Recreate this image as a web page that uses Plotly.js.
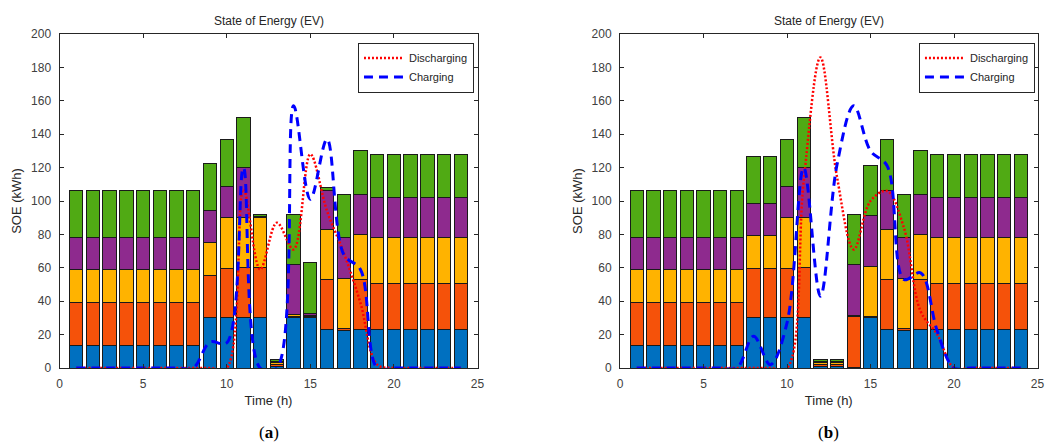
<!DOCTYPE html>
<html>
<head>
<meta charset="utf-8">
<script src="https://cdn.plot.ly/plotly-3.0.1.min.js"></script>
<style>html,body{margin:0;padding:0;background:#fff;}#chart{width:1047px;height:444px;}</style>
</head>
<body>
<div id="chart"></div>
<script>
// ---- data ----
const hours = [1,2,3,4,5,6,7,8,9,10,11,12,13,14,15,16,17,18,19,20,21,22,23,24];

// (a) stacked segments
const aBlue   = [13.2,13.2,13.2,13.2,13.2,13.2,13.2,13.2,30,30,30,30,1,30,30,22.8,22.6,22.8,22.8,22.8,22.8,22.8,22.8,22.8];
const aOrange = [26,26,26,26,26,26,26,26,25.4,29.4,30,30,1,1,1,30,0.8,30,27.6,27.6,27.6,27.6,27.6,27.6];
const aYellow = [19.8,19.8,19.8,19.8,19.8,19.8,19.8,19.8,20,30.6,30,30,1,0.8,0.6,30.2,30.4,27.2,27.6,27.6,27.6,27.6,27.6,27.6];
const aPurple = [19,19,19,19,19,19,19,19,18.8,18.8,30,1,1,30.2,1,23.4,24.2,24,24,24,24,24,24,24];
const aGreen  = [28,28,28,28,28,28,28,28,28.2,28,30,1.2,1,29.8,30.4,1.4,25.6,26,25.8,25.8,25.8,25.8,25.8,25.8];

// (b) stacked segments
const bBlue   = [13.2,13.2,13.2,13.2,13.2,13.2,13.2,30,30,30,30,1,1,0.6,30,22.8,22.6,22.8,22.8,22.8,22.8,22.8,22.8,22.8];
const bOrange = [26,26,26,26,26,26,26,29.6,29.6,29.4,30,1,1,30.4,1,30,0.8,30,27.6,27.6,27.6,27.6,27.6,27.6];
const bYellow = [19.8,19.8,19.8,19.8,19.8,19.8,19.8,20,20,30.6,30,1,1,0.6,30,30.2,30.4,27.2,27.6,27.6,27.6,27.6,27.6,27.6];
const bPurple = [19,19,19,19,19,19,19,18.8,18.8,18.8,30,1,1,30.4,30.2,23.4,24.2,24,24,24,24,24,24,24];
const bGreen  = [28,28,28,28,28,28,28,28,28,28,30,1,1,29.8,29.8,30.4,25.6,26,25.8,25.8,25.8,25.8,25.8,25.8];

// lines
const aDischarging = [0,0,0,0,0,0,0,0,0,0,107,59,87,71,128,94,69,39,2,0,0,0,0,0];
const aCharging    = [0,0,0,0,0,0,0,0,15.5,15,120,0,0,157,101,137,68,59,0,0,0,0,0,0];
const bDischarging = [0,0,0,0,0,0,0,0,0,0,112,186,114,71,100,106,84,34,20,0,0,0,0,0];
const bCharging    = [0,0,0,0,0,0,0,19,2,27,120,43,122,157,130,121,53,57,22,0,0,0,0,0];

const xTicks = [0,5,10,15,20,25];
const yTicks = [0,20,40,60,80,100,120,140,160,180,200];
const segColors = ['#0070C0','#F5520A','#FFB300','#8E2A8E','#50AA14'];

// ---- traces ----
function barSet(segs, xa, ya) {
  return segs.map((s, i) => ({
    type: 'bar', x: hours, y: s, xaxis: xa, yaxis: ya, width: 0.8,
    marker: {color: segColors[i], line: {color: '#1a1a1a', width: 1}},
    showlegend: false, hoverinfo: 'skip'
  }));
}
function lineSet(dis, chg, xa, ya, leg) {
  return [
    {type:'scatter', mode:'lines', x: hours, y: dis, xaxis: xa, yaxis: ya, name:'Discharging',
     legend: leg, line:{color:'#FF0000', width:2.5, dash:'2px,2px', shape:'spline', smoothing:1}},
    {type:'scatter', mode:'lines', x: hours, y: chg, xaxis: xa, yaxis: ya, name:'Charging',
     legend: leg, line:{color:'#0000FF', width:3, dash:'9px,6px', shape:'spline', smoothing:1}}
  ];
}
const data = [].concat(
  barSet([aBlue,aOrange,aYellow,aPurple,aGreen], 'x', 'y'),
  barSet([bBlue,bOrange,bYellow,bPurple,bGreen], 'x2', 'y2'),
  lineSet(aDischarging, aCharging, 'x', 'y', 'legend'),
  lineSet(bDischarging, bCharging, 'x2', 'y2', 'legend2')
);

const tickFont = {family:'Liberation Sans, Arial, sans-serif', size:12, color:'#404040'};
const labFont = {family:'Liberation Sans, Arial, sans-serif', size:13, color:'#262626'};
function xax(dom) {
  return {domain: dom, range:[0,25], tickvals: xTicks, ticks:'inside', ticklen:4, tickcolor:'#262626',
    showline:true, linecolor:'#262626', linewidth:1, mirror:'ticks', showgrid:false, zeroline:false,
    ticklabelstandoff:5,
    tickfont: tickFont, title:{text:'Time (h)', font: labFont, standoff: 5}, fixedrange:true};
}
function yax(anchor) {
  return {domain:[0.17117,0.92342], range:[0,200], tickvals: yTicks, ticks:'inside', ticklen:4, tickcolor:'#262626',
    showline:true, linecolor:'#262626', linewidth:1, mirror:'ticks', showgrid:false, zeroline:false,
    ticklabelstandoff:5,
    tickfont: tickFont, title:{text:'SOE (kWh)', font: labFont, standoff: 6}, anchor: anchor, fixedrange:true};
}
const legendBase = {bgcolor:'#ffffff', bordercolor:'#262626', borderwidth:1, traceorder:'normal',
  font:{family:'Liberation Sans, Arial, sans-serif', size:11, color:'#262626'},
  xanchor:'left', yanchor:'top', itemwidth:40, tracegroupgap:0};

const layout = {
  width:1047, height:444, margin:{l:0,r:0,t:0,b:0},
  paper_bgcolor:'#ffffff', plot_bgcolor:'#ffffff',
  barmode:'stack', bargap:0.2,
  xaxis: Object.assign(xax([0.05683,0.45607]), {anchor:'y'}),
  yaxis: yax('x'),
  xaxis2: Object.assign(xax([0.59217,0.99093]), {anchor:'y2'}),
  yaxis2: yax('x2'),
  legend: Object.assign({x:0.3419, y:0.904}, legendBase),
  legend2: Object.assign({x:0.8777, y:0.904}, legendBase),
  annotations: [
    {text:'State of Energy (EV)', xref:'paper', yref:'paper', x:0.2565, y:0.953, xanchor:'center', yanchor:'middle', showarrow:false,
     font:{family:'Liberation Sans, Arial, sans-serif', size:12, color:'#262626'}},
    {text:'State of Energy (EV)', xref:'paper', yref:'paper', x:0.7915, y:0.953, xanchor:'center', yanchor:'middle', showarrow:false,
     font:{family:'Liberation Sans, Arial, sans-serif', size:12, color:'#262626'}},
    {text:'(<b>a</b>)', xref:'paper', yref:'paper', x:0.2565, y:0.027, xanchor:'center', yanchor:'middle', showarrow:false,
     font:{family:'Liberation Serif, Times New Roman, serif', size:17, color:'#000000'}},
    {text:'(<b>b</b>)', xref:'paper', yref:'paper', x:0.7915, y:0.027, xanchor:'center', yanchor:'middle', showarrow:false,
     font:{family:'Liberation Serif, Times New Roman, serif', size:17, color:'#000000'}}
  ]
};

Plotly.newPlot('chart', data, layout, {staticPlot:true, displayModeBar:false});
</script>
</body>
</html>
